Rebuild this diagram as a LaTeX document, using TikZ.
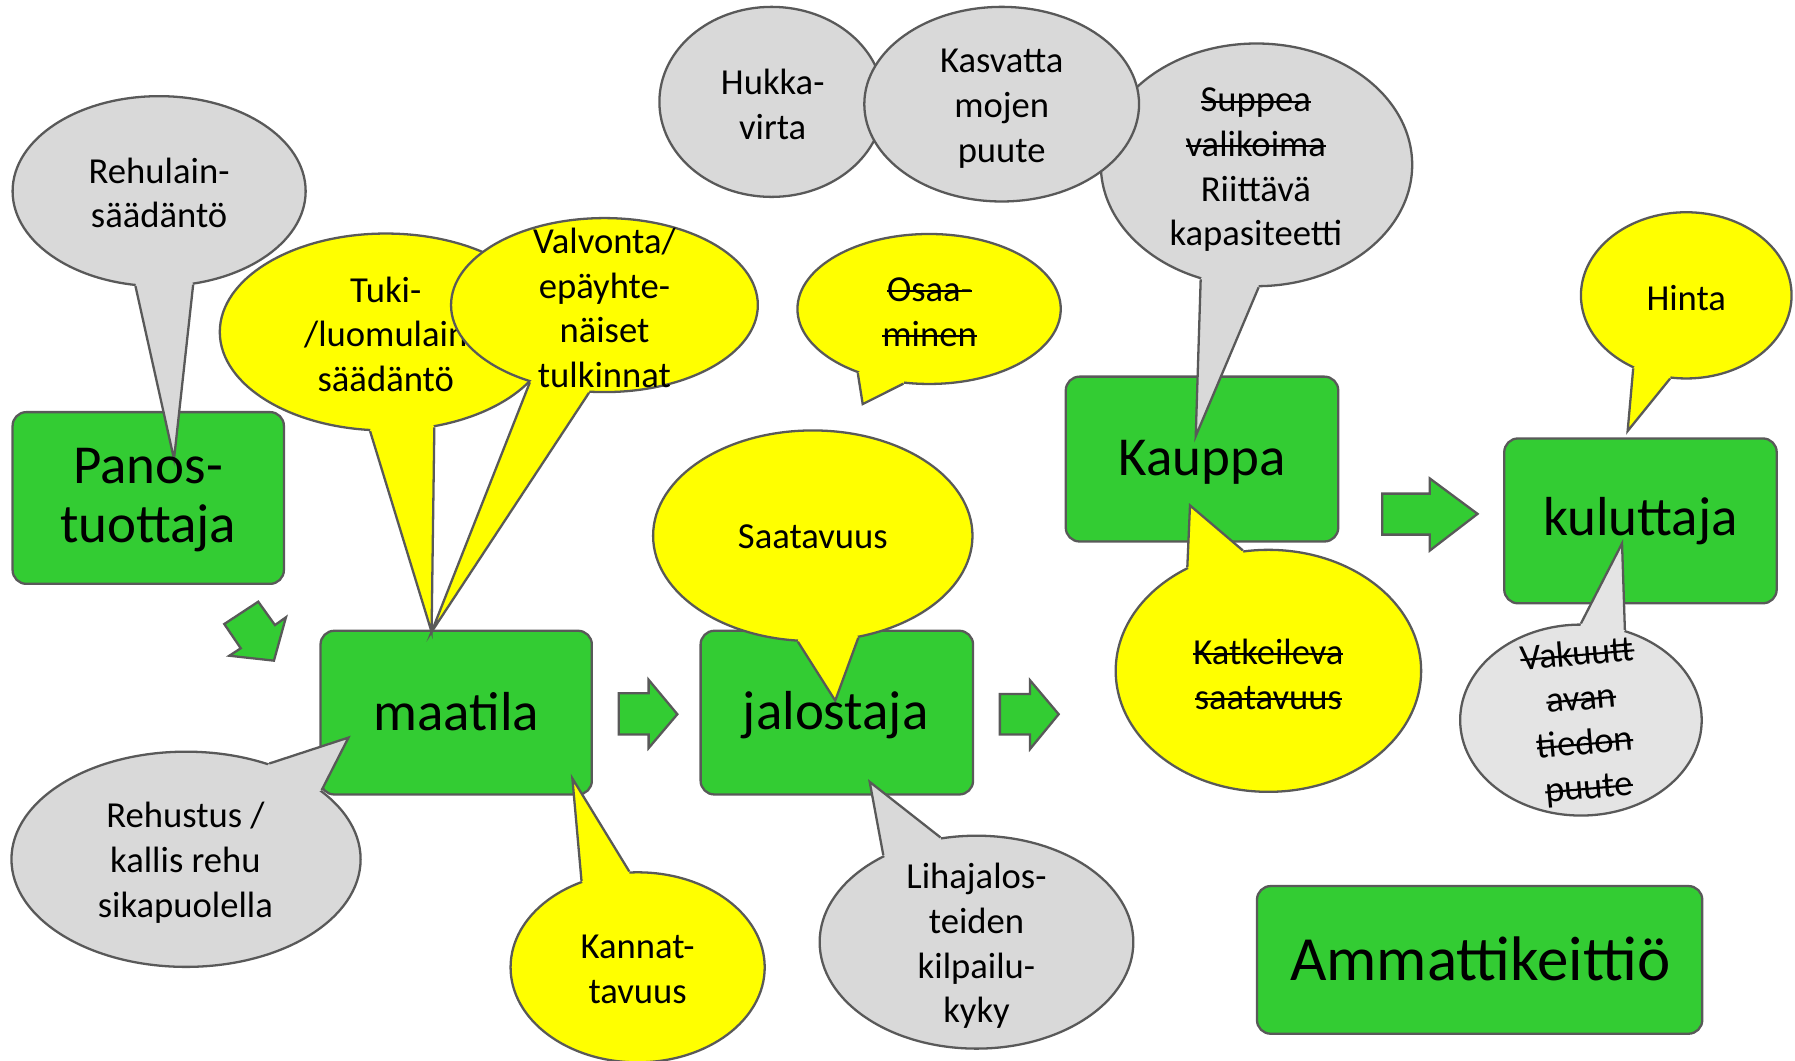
\documentclass[tikz,border=0pt]{standalone}
\usepackage{fontspec}
\setmainfont{Carlito}
\newcommand\strk[1]{\setbox0\hbox{#1}\rlap{\rule[0.25em]{\wd0}{0.9pt}}\box0}
\usetikzlibrary{shapes.geometric}
\definecolor{boxg}{HTML}{33CC33}
\definecolor{edgec}{HTML}{595959}
\definecolor{cgray}{HTML}{D9D9D9}
\definecolor{cgrayl}{HTML}{E4E4E4}
\definecolor{cyel}{HTML}{FFFF00}
\begin{document}
\begin{tikzpicture}[x=0.5pt,y=-0.5pt,
  edge/.style={draw=edgec, line width=1pt},
  box/.style={rectangle, rounded corners=6pt, fill=boxg, draw=edgec, line width=1pt, inner sep=0},
  bub/.style={ellipse, draw=edgec, line width=1pt, inner sep=0},
  stxt/.style={font=\fontsize{16}{19.5}\selectfont, align=center, inner sep=0, text=black},
  btxt/.style={font=\fontsize{24}{26}\selectfont, align=center, inner sep=0, text=black},
  barrow/.style={fill=boxg, draw=edgec, line width=1pt, line join=miter}]
\useasboundingbox (0,0) rectangle (1568,926);

% boxes
\node[box, minimum width=118.5pt, minimum height=75pt] (panos) at (129.5,435) {};
\node[box, minimum width=118.5pt, minimum height=71.5pt] (maat) at (398.5,622.5) {};
\node[box, minimum width=119pt, minimum height=71.5pt] (jalo) at (731,622.5) {};
\node[box, minimum width=119pt, minimum height=72pt] (kaup) at (1050,401) {};
\node[box, minimum width=119pt, minimum height=72pt] (kulu) at (1433,455) {};
\node[box, minimum width=194.5pt, minimum height=64.5pt] (ammat) at (1292.5,838.5) {};

% block arrows
\draw[barrow] (225.6,525.6) -- (240.2,546) -- (249.8,539.2) -- (239.3,577.1) -- (200.3,572.8) -- (210.3,566.3) -- (195.9,545.1) -- cycle;
\draw[barrow] (540.5,605.6) -- (566.6,605.6) -- (566.6,593.8) -- (591.7,623.9) -- (566.6,653.5) -- (566.6,641.6) -- (540.5,641.6) -- cycle;
\draw[barrow] (873.4,606.2) -- (899.8,606.2) -- (899.8,594.3) -- (924.8,623.9) -- (899.8,654.3) -- (899.8,641.6) -- (873.4,641.6) -- cycle;
\draw[barrow] (1207.5,431.2) -- (1248.9,431.2) -- (1248.9,417.9) -- (1290.7,448.9) -- (1248.9,481) -- (1248.9,467) -- (1207.5,467) -- cycle;

% Rehulain-saadanto
\node[bub, fill=cgray, minimum width=128pt, minimum height=83pt] (reh) at (139,167) {};
\coordinate (reh-t) at (152,401);
\fill[cgray] (reh.256) -- (reh-t) -- (reh.-70) -- (reh.center) -- cycle;
\draw[edge] (reh.256) -- (reh-t) -- (reh.-70);
\node[stxt] (reh-l) at (139,168.5) {Rehulain-\\säädäntö};

% Tuki
\node[bub, fill=cyel, minimum width=145pt, minimum height=86pt] (tuki) at (337,290) {};
\coordinate (tuki-t) at (377,552);
\fill[cyel] (tuki.-99) -- (tuki-t) -- (tuki.-63) -- (tuki.center) -- cycle;
\draw[edge] (tuki.-99) -- (tuki-t) -- (tuki.-63);
\node[stxt] (tuki-l) at (337,292) {Tuki-\\/luomulain\\säädäntö};

% Valvonta
\node[bub, fill=cyel, minimum width=134pt, minimum height=76pt] (valv) at (528,266.5) {};
\fill[cyel] (valv.-134) -- (tuki-t) -- (valv.-100) -- (valv.center) -- cycle;
\draw[edge] (valv.-134) -- (tuki-t) -- (valv.-100);
\node[stxt] (valv-l) at (528,269) {Valvonta/\\epäyhte-\\näiset\\tulkinnat};

% Hukkavirta
\node[bub, fill=cgray, minimum width=98pt, minimum height=83pt] (hukka) at (674,89) {};
\node[stxt] (hukka-l) at (675,91) {Hukka-\\virta};

% Suppea valikoima
\node[bub, fill=cgray, minimum width=136pt, minimum height=106pt] (supp) at (1097.6,144) {};
\coordinate (supp-t) at (1044.5,381);
\fill[cgray] (supp.-116) -- (supp-t) -- (supp.-89) -- (supp.center) -- cycle;
\draw[edge] (supp.-116) -- (supp-t) -- (supp.-89);
\node[stxt] (supp-l) at (1097,148.5) {\strk{Suppea}\\\strk{valikoima}\\Riittävä\\kapasiteetti};

% Kasvattamojen puute
\node[bub, fill=cgray, minimum width=120pt, minimum height=85pt] (kasv) at (875,91) {};
\node[stxt] (kasv-l) at (875,95) {Kasvatta\\mojen\\puute};

% Osaaminen
\node[bub, fill=cyel, minimum width=115pt, minimum height=65.5pt] (osaa) at (811.6,269.9) {};
\coordinate (osaa-t) at (753.6,353);
\fill[cyel] (osaa.-138) -- (osaa-t) -- (osaa.-109) -- (osaa.center) -- cycle;
\draw[edge] (osaa.-138) -- (osaa-t) -- (osaa.-109);
\node[stxt] (osaa-l) at (812,272.5) {\strk{Osaa-}\\\strk{minen}};

% Saatavuus
\node[bub, fill=cyel, minimum width=139.5pt, minimum height=92pt] (saat) at (710,468) {};
\coordinate (saat-t) at (729.6,612);
\fill[cyel] (saat.-98) -- (saat-t) -- (saat.-66) -- (saat.center) -- cycle;
\draw[edge] (saat.-98) -- (saat-t) -- (saat.-66);
\node[stxt] (saat-l) at (710,468.5) {Saatavuus};

% Rehustus
\node[bub, fill=cgray, minimum width=152.5pt, minimum height=94pt] (rehu) at (162.5,750.6) {};
\coordinate (rehu-t) at (304.4,644.3);
\fill[cgray] (rehu.49) -- (rehu-t) -- (rehu.27) -- (rehu.center) -- cycle;
\draw[edge] (rehu.49) -- (rehu-t) -- (rehu.27);
\node[stxt] (rehu-l) at (162,753.5) {Rehustus /\\kallis rehu\\sikapuolella};

% Kannattavuus
\node[bub, fill=cyel, minimum width=111pt, minimum height=83pt] (kann) at (557,845) {};
\coordinate (kann-t) at (500,680);
\fill[cyel] (kann.123) -- (kann-t) -- (kann.95) -- (kann.center) -- cycle;
\draw[edge] (kann.123) -- (kann-t) -- (kann.95);
\node[stxt] (kann-l) at (557,847) {Kannat-\\tavuus};

% Lihajalosteiden
\node[bub, fill=cgray, minimum width=137pt, minimum height=93pt] (liha) at (853,823) {};
\coordinate (liha-t) at (759.7,683);
\fill[cgray] (liha.137) -- (liha-t) -- (liha.109) -- (liha.center) -- cycle;
\draw[edge] (liha.137) -- (liha-t) -- (liha.109);
\node[stxt] (liha-l) at (853,826.5) {Lihajalos-\\teiden\\kilpailu-\\kyky};

% Katkeileva
\node[bub, fill=cyel, minimum width=133.4pt, minimum height=105.7pt] (katk) at (1108,586) {};
\coordinate (katk-t) at (1039.5,441.5);
\fill[cyel] (katk.128) -- (katk-t) -- (katk.102) -- (katk.center) -- cycle;
\draw[edge] (katk.128) -- (katk-t) -- (katk.102);
\node[stxt] (katk-l) at (1108,589) {\strk{Katkeileva}\\\strk{saatavuus}};

% Hinta
\node[bub, fill=cyel, minimum width=92pt, minimum height=72.6pt] (hinta) at (1473,258) {};
\coordinate (hinta-t) at (1421.8,376.5);
\fill[cyel] (hinta.-126) -- (hinta-t) -- (hinta.-101) -- (hinta.center) -- cycle;
\draw[edge] (hinta.-126) -- (hinta-t) -- (hinta.-101);
\node[stxt] (hinta-l) at (1473,260) {Hinta};

% Vakuuttavan tiedon puute
\node[bub, fill=cgrayl, minimum width=105.5pt, minimum height=83.4pt] (vak) at (1381,629) {};
\coordinate (vak-t) at (1416.9,474.7);
\fill[cgrayl] (vak.90) -- (vak-t) -- (vak.64) -- (vak.center) -- cycle;
\draw[edge] (vak.90) -- (vak-t) -- (vak.64);
\node[stxt, rotate=5] (vak-l) at (1383,631) {\strk{Vakuutt}\\\strk{avan}\\\strk{tiedon}\\\strk{puute}};

% box texts
\node[btxt] (panos-l) at (129.5,437) {Panos-\\tuottaja};
\node[btxt] (maat-l) at (398.5,622) {maatila};
\node[btxt] (jalo-l) at (730,625) {jalostaja};
\node[btxt] (kaup-l) at (1050,404) {Kauppa};
\node[btxt] (kulu-l) at (1433,455) {kuluttaja};
\node[btxt, font=\fontsize{27.5}{32}\selectfont] (ammat-l) at (1293,838) {Ammattikeittiö};
\end{tikzpicture}
\end{document}
